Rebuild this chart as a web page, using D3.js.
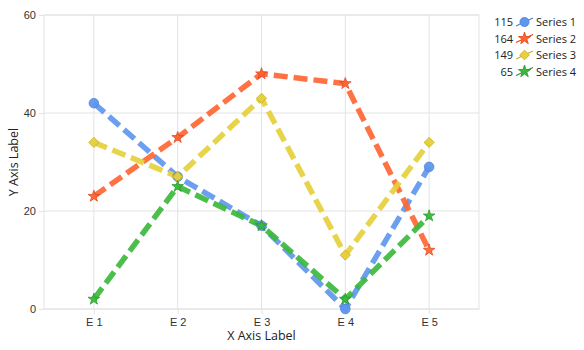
<!DOCTYPE html>
<html>
<head>
<meta charset="utf-8">
<script src="https://cdn.jsdelivr.net/npm/d3@7"></script>
<style>
  html, body { margin: 0; padding: 0; background: #fff; }
  svg { display: block; font-family: "Open Sans", "Noto Sans", sans-serif; }
</style>
</head>
<body>
<svg id="chart" width="584" height="350"></svg>
<script>
// Categories and series
const categories = ["E 1", "E 2", "E 3", "E 4", "E 5"];
const seriesNames = ["Series 1", "Series 2", "Series 3", "Series 4"];
const series1 = [42, 27, 17, 0, 29];
const series2 = [23, 35, 48, 46, 12];
const series3 = [34, 27, 43, 11, 34];
const series4 = [2, 25, 17, 2, 19];
const yTicks = [0, 20, 40, 60];

const colors = ["#5f97ee", "#ff6633", "#e6d03c", "#3cb93c"];
const strokes = ["#4a7fd6", "#e0441a", "#c8b020", "#22992a"];
const markers = ["circle", "star", "diamond", "star"];

const allSeries = [series1, series2, series3, series4].map((v, i) => ({
  name: seriesNames[i], values: v, color: colors[i], stroke: strokes[i], marker: markers[i],
  total: d3.sum(v)
}));

const svg = d3.select("#chart");
const m = { left: 44, right: 105, top: 15, bottom: 41 };
const W = 584, H = 350;

const x = d3.scalePoint().domain(categories).range([m.left, W - m.right]).padding(0.595);
const y = d3.scaleLinear().domain([0, 60]).range([H - m.bottom, m.top]);

// Plot frame and grid
const g = svg.append("g");
g.append("rect")
  .attr("x", m.left).attr("y", m.top)
  .attr("width", W - m.right - m.left).attr("height", H - m.bottom - m.top)
  .attr("fill", "none").attr("stroke", "#e3e3e3");

g.selectAll(".hgrid").data(yTicks).join("line")
  .attr("x1", m.left).attr("x2", W - m.right)
  .attr("y1", d => y(d)).attr("y2", d => y(d))
  .attr("stroke", "#e3e3e3");

g.selectAll(".vgrid").data(categories).join("line")
  .attr("x1", d => x(d)).attr("x2", d => x(d))
  .attr("y1", m.top).attr("y2", H - m.bottom)
  .attr("stroke", "#e3e3e3");

// Axes
const yAxis = d3.axisLeft(y).tickValues(yTicks).tickSize(5).tickPadding(3);
const ya = svg.append("g").attr("transform", `translate(${m.left},0)`).call(yAxis);
const xAxis = d3.axisBottom(x).tickSize(5).tickPadding(4);
const xa = svg.append("g").attr("transform", `translate(0,${H - m.bottom})`).call(xAxis);
[ya, xa].forEach(a => {
  a.select(".domain").remove();
  a.selectAll(".tick line").attr("stroke", "#e3e3e3");
  a.selectAll(".tick text").attr("fill", "#333").style("font-size", "11px");
});

svg.append("text")
  .attr("x", (m.left + W - m.right) / 2).attr("y", 340)
  .attr("text-anchor", "middle").attr("fill", "#222").style("font-size", "12.5px")
  .text("X Axis Label");
svg.append("text")
  .attr("transform", `translate(18,${(m.top + H - m.bottom) / 2}) rotate(-90)`)
  .attr("text-anchor", "middle").attr("fill", "#222").style("font-size", "12.5px")
  .text("Y Axis Label");

// Marker shapes
function markerPath(type, scale) {
  const k = scale || 1;
  if (type === "circle") return d3.symbol(d3.symbolCircle, 72 * k)();
  if (type === "diamond") return d3.symbol(d3.symbolSquare, 52 * k)();
  return d3.symbol(d3.symbolStar, 42 * k)();
}
function markerRotate(type) { return type === "diamond" ? " rotate(45)" : ""; }

// Lines
const line = d3.line().x((d, i) => x(categories[i])).y(d => y(d));
const lg = svg.append("g");
allSeries.forEach(s => {
  lg.append("path")
    .attr("d", line(s.values))
    .attr("fill", "none")
    .attr("stroke", s.color)
    .attr("stroke-width", 5.5)
    .attr("stroke-dasharray", "14,6")
    .attr("opacity", 0.92);
});
allSeries.forEach(s => {
  lg.selectAll(null).data(s.values).join("path")
    .attr("d", markerPath(s.marker))
    .attr("transform", (d, i) => `translate(${x(categories[i])},${y(d)})${markerRotate(s.marker)}`)
    .attr("fill", s.color).attr("stroke", s.stroke).attr("stroke-width", 0.8)
    .attr("opacity", 0.95);
});

// Legend with series totals
const leg = svg.append("g");
allSeries.forEach((s, i) => {
  const cy = 22 + i * 16.5;
  const row = leg.append("g").attr("transform", `translate(0,${cy})`);
  row.append("text").attr("x", 513).attr("y", 4).attr("text-anchor", "end")
    .attr("fill", "#222").style("font-size", "11px").text(s.total);
  row.append("line").attr("x1", 516).attr("y1", 4).attr("x2", 533).attr("y2", -4)
    .attr("stroke", s.stroke).attr("stroke-width", 1.2);
  row.append("path").attr("d", markerPath(s.marker, s.marker === "star" ? 1.1 : 0.9))
    .attr("transform", `translate(524.5,0)${markerRotate(s.marker)}`)
    .attr("fill", s.color).attr("stroke", s.stroke).attr("stroke-width", 0.8);
  row.append("text").attr("x", 536).attr("y", 4)
    .attr("fill", "#222").style("font-size", "11px").text(s.name);
});
</script>
</body>
</html>
